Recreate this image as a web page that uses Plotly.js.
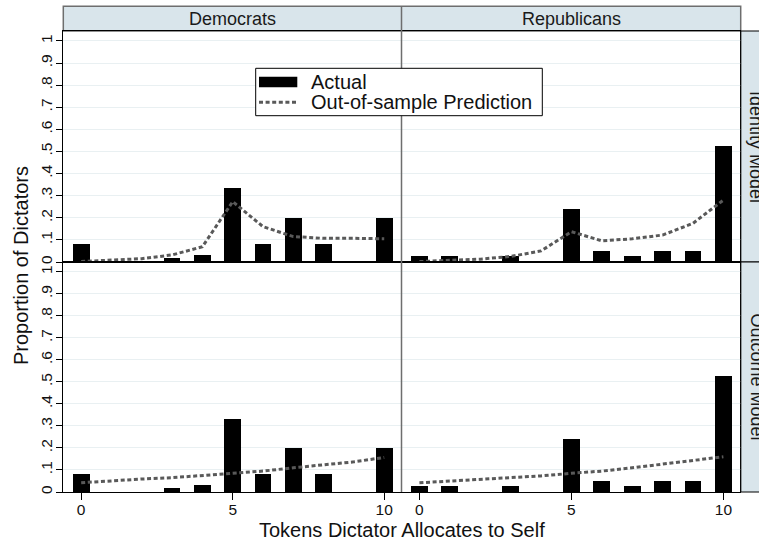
<!DOCTYPE html>
<html>
<head>
<meta charset="utf-8">
<script src="https://cdn.plot.ly/plotly-3.0.1.min.js"></script>
<style>html,body{margin:0;padding:0;background:#fff;}#chart{width:759px;height:544px;}</style>
</head>
<body>
<div id="chart"></div>
<script>
// ---- data ----
var tokens = [0, 1, 2, 3, 4, 5, 6, 7, 8, 9, 10];
var demActual = [0.083, 0, 0, 0.017, 0.03, 0.333, 0.083, 0.2, 0.083, 0, 0.2];
var repActual = [0.026, 0.026, 0, 0.026, 0, 0.24, 0.05, 0.026, 0.05, 0.05, 0.526];
var demIdentityPred = [0.002, 0.007, 0.015, 0.032, 0.069, 0.273, 0.16, 0.115, 0.107, 0.107, 0.105];
var repIdentityPred = [0.002, 0.007, 0.013, 0.025, 0.05, 0.137, 0.096, 0.105, 0.122, 0.175, 0.28];
var demOutcomePred = [0.042, 0.051, 0.059, 0.065, 0.074, 0.085, 0.095, 0.11, 0.122, 0.137, 0.157];
var repOutcomePred = [0.042, 0.05, 0.057, 0.065, 0.073, 0.085, 0.095, 0.11, 0.126, 0.141, 0.16];
var yTickVals = [0, 0.1, 0.2, 0.3, 0.4, 0.5, 0.6, 0.7, 0.8, 0.9, 1];
var yTickText = ["0", ".1", ".2", ".3", ".4", ".5", ".6", ".7", ".8", ".9", "1"];
var xTickVals = [0, 5, 10];
var xTickText = ["0", "5", "10"];
var colLabels = ["Democrats", "Republicans"];
var rowLabels = ["Identity Model", "Outcome Model"];
var legendNames = ["Actual", "Out-of-sample Prediction"];

// ---- geometry (pixels) ----
var W = 759, H = 544;
function px(x) { return x / W; }
function py(y) { return (H - y) / H; }
var L = 63.3, M = 401.5, R = 740.7, T0 = 6.3, T = 31, MID = 262, B = 492;

var FONT = "Liberation Sans, Arial, Helvetica, sans-serif";
var predColor = "#595959";
var predDash = "4px,2.6px";
var gridColor = "#e9f0f2";
var stripFill = "#d9e5eb";
var stripLine = "#6e6e6e";

function barTrace(y, xa, ya) {
  return {type: "bar", x: tokens, y: y, width: 0.55, xaxis: xa, yaxis: ya,
    marker: {color: "#000", line: {width: 0}}, name: legendNames[0],
    showlegend: false, hoverinfo: "x+y"};
}
function lineTrace(y, xa, ya) {
  return {type: "scatter", mode: "lines", x: tokens, y: y, xaxis: xa, yaxis: ya,
    line: {color: predColor, width: 3, dash: predDash}, name: legendNames[1],
    showlegend: false};
}

var data = [
  barTrace(demActual, "x", "y"),
  barTrace(repActual, "x2", "y2"),
  barTrace(demActual, "x3", "y3"),
  barTrace(repActual, "x4", "y4"),
  lineTrace(demIdentityPred, "x", "y"),
  lineTrace(repIdentityPred, "x2", "y2"),
  lineTrace(demOutcomePred, "x3", "y3"),
  lineTrace(repOutcomePred, "x4", "y4")
];

var xr = [-0.59, 10.57], yr = [0, 1.045];
function xax(domain, anchor, bottom) {
  return {domain: domain, anchor: anchor, range: xr, showgrid: false, zeroline: false,
    showline: true, linecolor: "#000", linewidth: 1, mirror: true,
    ticks: bottom ? "outside" : "", ticklen: 7, tickcolor: "#000",
    tickvals: xTickVals, ticktext: xTickText, showticklabels: bottom, ticklabelstandoff: -4,
    tickfont: {family: FONT, size: 15.5, color: "#111"}, fixedrange: true};
}
function yax(domain, anchor, left) {
  return {domain: domain, anchor: anchor, range: yr, showgrid: true, gridcolor: gridColor,
    gridwidth: 1, zeroline: false, showline: left, linecolor: "#000", linewidth: 1,
    ticks: left ? "outside" : "", ticklen: 6, tickcolor: "#000",
    tickvals: yTickVals, ticktext: yTickText, showticklabels: left, tickangle: -90,
    ticklabelstandoff: -2,
    tickfont: {family: FONT, size: 15.5, color: "#111"}, fixedrange: true};
}
var dxL = [px(L), px(M)], dxR = [px(M), px(R)];
var dyT = [py(MID), py(T)], dyB = [py(B), py(MID)];

// legend box geometry (pixels)
var LG = {x0: 255.7, x1: 542.3, y0: 68.3, y1: 115.7, sx0: 259, sx1: 297.3, textX: 308.5,
          row1: 82.5, row2: 102.3};

var shapes = [
  // top strip
  {type: "rect", xref: "paper", yref: "paper", x0: px(L), x1: px(R), y0: py(T), y1: py(T0),
   fillcolor: stripFill, line: {color: stripLine, width: 1.5}, layer: "below"},
  // right strips
  {type: "rect", xref: "paper", yref: "paper", x0: px(R), x1: px(820), y0: py(MID), y1: py(T),
   fillcolor: stripFill, line: {color: "#000", width: 1}, layer: "below"},
  {type: "rect", xref: "paper", yref: "paper", x0: px(R), x1: px(820), y0: py(B), y1: py(MID),
   fillcolor: stripFill, line: {color: "#000", width: 1}, layer: "below"},
  // divider between columns
  {type: "line", xref: "paper", yref: "paper", x0: px(M), x1: px(M), y0: py(B), y1: py(T0),
   line: {color: stripLine, width: 1.5}},
  // right border of panels
  {type: "line", xref: "paper", yref: "paper", x0: px(R), x1: px(R), y0: py(B), y1: py(T),
   line: {color: "#000", width: 1}},
  // legend box
  {type: "rect", xref: "paper", yref: "paper", x0: px(LG.x0), x1: px(LG.x1), y0: py(LG.y1), y1: py(LG.y0),
   fillcolor: "#fff", line: {color: "#000", width: 1}, layer: "above"},
  // legend key: bar
  {type: "rect", xref: "paper", yref: "paper", x0: px(LG.sx0), x1: px(LG.sx1), y0: py(87.3), y1: py(76.7),
   fillcolor: "#000", line: {width: 0}, layer: "above"},
  // legend key: dotted line
  {type: "line", xref: "paper", yref: "paper", x0: px(LG.sx0), x1: px(LG.sx1), y0: py(LG.row2), y1: py(LG.row2),
   line: {color: predColor, width: 3, dash: predDash}, layer: "above"}
];

var annotations = [
  {text: colLabels[0], xref: "paper", yref: "paper", x: px((L + M) / 2), y: py((T0 + T) / 2 + 0.5),
   showarrow: false, xanchor: "center", yanchor: "middle", font: {family: FONT, size: 18, color: "#1a1a1a"}},
  {text: colLabels[1], xref: "paper", yref: "paper", x: px((M + R) / 2), y: py((T0 + T) / 2 + 0.5),
   showarrow: false, xanchor: "center", yanchor: "middle", font: {family: FONT, size: 18, color: "#1a1a1a"}},
  {text: rowLabels[0], xref: "paper", yref: "paper", x: px(756.5), y: py((T + MID) / 2), textangle: 90,
   showarrow: false, xanchor: "center", yanchor: "middle", font: {family: FONT, size: 18, color: "#1a1a1a"}},
  {text: rowLabels[1], xref: "paper", yref: "paper", x: px(756.5), y: py((MID + B) / 2), textangle: 90,
   showarrow: false, xanchor: "center", yanchor: "middle", font: {family: FONT, size: 18, color: "#1a1a1a"}},
  {text: "Tokens Dictator Allocates to Self", xref: "paper", yref: "paper", x: px((L + R) / 2), y: py(530),
   showarrow: false, xanchor: "center", yanchor: "middle", font: {family: FONT, size: 20, color: "#111"}},
  {text: "Proportion of Dictators", xref: "paper", yref: "paper", x: px(21), y: py(266), textangle: -90,
   showarrow: false, xanchor: "center", yanchor: "middle", font: {family: FONT, size: 20, color: "#111"}},
  // legend labels
  {text: legendNames[0], xref: "paper", yref: "paper", x: px(LG.textX), y: py(LG.row1),
   showarrow: false, xanchor: "left", yanchor: "middle", font: {family: FONT, size: 20, color: "#111"}},
  {text: legendNames[1], xref: "paper", yref: "paper", x: px(LG.textX), y: py(LG.row2),
   showarrow: false, xanchor: "left", yanchor: "middle", font: {family: FONT, size: 20, color: "#111"}}
];

var layout = {
  width: W, height: H, margin: {l: 0, r: 0, t: 0, b: 0},
  paper_bgcolor: "#fff", plot_bgcolor: "#fff",
  font: {family: FONT, color: "#111"},
  bargap: 0, barmode: "overlay",
  showlegend: false,
  xaxis: xax(dxL, "y", false), yaxis: yax(dyT, "x", true),
  xaxis2: xax(dxR, "y2", false), yaxis2: yax(dyT, "x2", false),
  xaxis3: xax(dxL, "y3", true), yaxis3: yax(dyB, "x3", true),
  xaxis4: xax(dxR, "y4", true), yaxis4: yax(dyB, "x4", false),
  shapes: shapes, annotations: annotations
};

Plotly.newPlot("chart", data, layout, {displayModeBar: false, staticPlot: true});
</script>
</body>
</html>
